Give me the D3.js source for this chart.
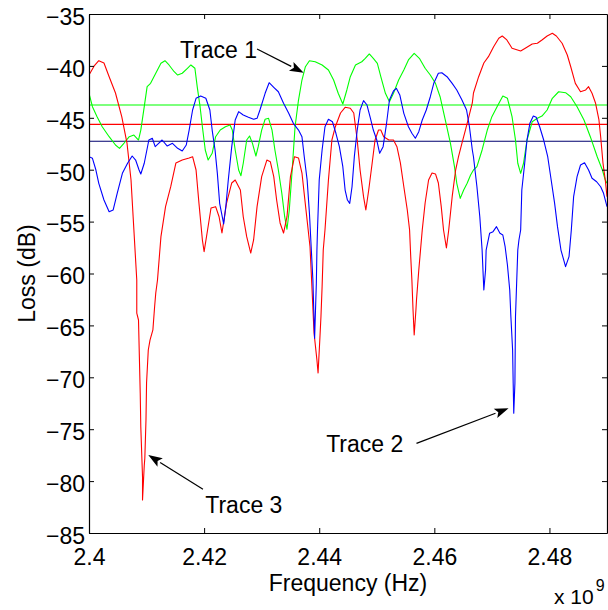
<!DOCTYPE html>
<html>
<head>
<meta charset="utf-8">
<script src="https://cdn.jsdelivr.net/npm/d3@7"></script>
<style>
	body { margin: 0; background: #fff; }
	text { font-family: "Liberation Sans", Arial, Helvetica, sans-serif; fill: #000; }
</style>
</head>
<body>
<div id="loss"></div>
<script>
// tick values (frequency in units of 10^9 Hz)
const xTicks = [2.40, 2.42, 2.44, 2.46, 2.48];
const yTicks = [-35, -40, -45, -50, -55, -60, -65, -70, -75, -80, -85];

// Trace 1 (green): [frequency x1e9 Hz, loss dB]
const trace1 = [
	[2.4000,-42.64],[2.4006,-43.93],[2.4014,-44.89],[2.4023,-45.86],[2.4035,-46.82],[2.4046,-47.62],
	[2.4053,-47.94],[2.4061,-47.43],[2.4070,-46.82],[2.4078,-46.66],[2.4086,-47.14],[2.4090,-46.18],
	[2.4096,-43.93],[2.4101,-42.00],[2.4107,-41.68],[2.4116,-40.71],[2.4125,-39.75],[2.4132,-39.50],
	[2.4139,-39.91],[2.4148,-40.56],[2.4154,-40.88],[2.4162,-40.71],[2.4171,-40.23],[2.4177,-39.91],
	[2.4184,-40.23],[2.4188,-42.00],[2.4193,-43.93],[2.4197,-45.86],[2.4202,-48.10],[2.4207,-49.07],
	[2.4214,-48.42],[2.4220,-46.82],[2.4228,-46.18],[2.4237,-45.86],[2.4245,-45.69],[2.4249,-46.18],
	[2.4254,-48.10],[2.4260,-50.03],[2.4264,-50.58],[2.4268,-49.38],[2.4274,-47.14],[2.4279,-46.75],
	[2.4284,-47.46],[2.4290,-48.68],[2.4294,-47.78],[2.4300,-46.18],[2.4306,-45.14],[2.4312,-45.05],
	[2.4318,-46.18],[2.4323,-48.10],[2.4329,-50.03],[2.4335,-52.27],[2.4340,-54.53],[2.4344,-55.74],
	[2.4348,-53.88],[2.4353,-50.03],[2.4358,-45.86],[2.4364,-43.29],[2.4370,-41.36],[2.4376,-40.08],
	[2.4383,-39.50],[2.4393,-39.60],[2.4405,-39.91],[2.4416,-40.39],[2.4425,-41.36],[2.4433,-42.64],
	[2.4441,-43.67],[2.4448,-42.32],[2.4454,-41.04],[2.4463,-39.91],[2.4474,-39.60],[2.4480,-39.27],
	[2.4487,-38.85],[2.4494,-39.27],[2.4501,-39.75],[2.4507,-41.04],[2.4515,-42.64],[2.4522,-43.45],
	[2.4529,-42.64],[2.4538,-41.36],[2.4547,-40.39],[2.4555,-39.43],[2.4565,-38.79],[2.4574,-39.27],
	[2.4584,-40.23],[2.4593,-40.88],[2.4602,-41.68],[2.4610,-42.97],[2.4619,-45.21],[2.4628,-47.46],
	[2.4635,-49.71],[2.4639,-51.31],[2.4645,-52.76],[2.4651,-51.96],[2.4657,-51.31],[2.4663,-50.51],
	[2.4668,-50.03],[2.4674,-49.71],[2.4683,-48.10],[2.4692,-46.18],[2.4700,-44.89],[2.4709,-43.93],
	[2.4719,-42.90],[2.4727,-43.12],[2.4735,-44.89],[2.4741,-47.14],[2.4745,-49.38],[2.4750,-50.35],
	[2.4755,-49.38],[2.4761,-47.14],[2.4770,-45.38],[2.4779,-45.05],[2.4787,-44.83],[2.4796,-44.25],
	[2.4805,-43.12],[2.4816,-42.49],[2.4828,-42.58],[2.4837,-42.97],[2.4848,-43.93],[2.4860,-45.21],
	[2.4871,-46.82],[2.4883,-48.75],[2.4892,-50.03],[2.4897,-50.99],[2.4900,-51.31]
];

// Trace 2 (blue)
const trace2 = [
	[2.4000,-48.75],[2.4006,-48.90],[2.4012,-50.03],[2.4017,-51.31],[2.4026,-52.92],[2.4035,-54.05],
	[2.4042,-53.88],[2.4049,-52.27],[2.4058,-50.35],[2.4067,-49.38],[2.4075,-48.68],[2.4081,-49.07],
	[2.4087,-50.03],[2.4090,-50.41],[2.4096,-49.38],[2.4104,-47.14],[2.4110,-46.97],[2.4115,-47.78],
	[2.4121,-47.46],[2.4127,-47.14],[2.4136,-47.72],[2.4145,-47.46],[2.4154,-47.94],[2.4162,-48.20],
	[2.4169,-47.62],[2.4174,-46.18],[2.4180,-44.25],[2.4186,-43.12],[2.4194,-42.90],[2.4203,-43.12],
	[2.4210,-44.25],[2.4214,-46.18],[2.4219,-48.10],[2.4223,-50.35],[2.4227,-53.24],[2.4234,-55.23],
	[2.4238,-53.40],[2.4242,-50.99],[2.4248,-47.78],[2.4254,-45.21],[2.4260,-44.41],[2.4268,-44.73],
	[2.4277,-44.95],[2.4286,-45.14],[2.4292,-45.05],[2.4297,-44.25],[2.4306,-42.64],[2.4313,-41.62],
	[2.4321,-42.06],[2.4329,-42.49],[2.4338,-43.60],[2.4347,-44.57],[2.4355,-45.53],[2.4364,-46.18],
	[2.4370,-46.82],[2.4374,-48.75],[2.4379,-50.99],[2.4383,-54.20],[2.4386,-57.42],[2.4389,-60.63],
	[2.4390,-62.55],[2.4392,-66.24],[2.4395,-60.94],[2.4396,-57.74],[2.4397,-55.81],[2.4400,-50.99],
	[2.4405,-48.10],[2.4410,-45.86],[2.4416,-45.14],[2.4423,-45.38],[2.4429,-46.49],[2.4435,-47.78],
	[2.4441,-49.71],[2.4445,-51.96],[2.4449,-52.92],[2.4453,-53.24],[2.4457,-51.64],[2.4461,-48.75],
	[2.4466,-46.18],[2.4471,-44.25],[2.4477,-43.35],[2.4483,-43.77],[2.4489,-45.05],[2.4494,-46.18],
	[2.4500,-47.14],[2.4505,-48.42],[2.4511,-47.78],[2.4517,-45.53],[2.4522,-43.29],[2.4529,-42.42],
	[2.4534,-42.16],[2.4540,-42.80],[2.4547,-44.57],[2.4555,-45.86],[2.4561,-46.49],[2.4567,-46.97],
	[2.4573,-46.34],[2.4579,-45.21],[2.4586,-44.25],[2.4593,-42.97],[2.4599,-41.68],[2.4607,-40.71],
	[2.4613,-40.66],[2.4622,-41.04],[2.4631,-41.68],[2.4639,-42.32],[2.4648,-43.29],[2.4656,-44.25],
	[2.4661,-45.86],[2.4666,-48.10],[2.4668,-48.75],[2.4674,-51.64],[2.4679,-54.53],[2.4683,-57.74],
	[2.4685,-60.31],[2.4686,-61.59],[2.4689,-59.66],[2.4690,-57.74],[2.4696,-56.13],[2.4702,-55.97],
	[2.4708,-55.49],[2.4714,-56.13],[2.4719,-56.29],[2.4723,-57.42],[2.4727,-59.18],[2.4731,-61.59],
	[2.4733,-64.16],[2.4736,-67.37],[2.4737,-70.58],[2.4738,-73.47],[2.4740,-70.58],[2.4741,-64.16],
	[2.4743,-60.94],[2.4745,-57.74],[2.4747,-56.77],[2.4750,-55.81],[2.4752,-51.96],[2.4757,-49.38],
	[2.4761,-47.14],[2.4766,-45.53],[2.4772,-44.83],[2.4777,-44.95],[2.4783,-45.86],[2.4790,-47.14],
	[2.4797,-48.75],[2.4803,-50.99],[2.4809,-53.24],[2.4814,-55.49],[2.4820,-57.74],[2.4828,-59.34],
	[2.4834,-58.38],[2.4838,-55.81],[2.4842,-52.60],[2.4848,-50.67],[2.4854,-49.55],[2.4861,-49.33],
	[2.4868,-50.03],[2.4874,-50.83],[2.4882,-51.16],[2.4889,-51.64],[2.4894,-52.27],[2.4900,-53.56]
];

// Trace 3 (red)
const trace3 = [
	[2.4000,-40.88],[2.4009,-40.00],[2.4017,-39.50],[2.4026,-39.72],[2.4035,-41.04],[2.4046,-42.61],
	[2.4057,-44.92],[2.4066,-47.43],[2.4073,-50.99],[2.4078,-55.81],[2.4083,-60.63],[2.4083,-63.81],
	[2.4086,-64.48],[2.4089,-71.51],[2.4090,-74.79],[2.4093,-79.61],[2.4093,-81.82],[2.4096,-78.50],
	[2.4097,-77.80],[2.4099,-74.11],[2.4100,-70.55],[2.4103,-67.37],[2.4106,-66.41],[2.4111,-65.44],
	[2.4114,-63.20],[2.4116,-61.88],[2.4119,-60.63],[2.4125,-56.45],[2.4133,-53.56],[2.4142,-51.64],
	[2.4151,-49.35],[2.4162,-49.07],[2.4174,-48.87],[2.4180,-48.75],[2.4186,-50.03],[2.4191,-53.21],
	[2.4197,-56.77],[2.4200,-57.90],[2.4206,-55.81],[2.4212,-53.69],[2.4220,-53.56],[2.4226,-54.53],
	[2.4231,-56.10],[2.4239,-53.21],[2.4248,-51.28],[2.4254,-50.99],[2.4263,-51.96],[2.4268,-54.53],
	[2.4274,-56.45],[2.4281,-58.03],[2.4286,-56.77],[2.4292,-53.56],[2.4300,-50.67],[2.4309,-49.07],
	[2.4315,-49.23],[2.4321,-50.67],[2.4326,-52.92],[2.4332,-55.13],[2.4338,-56.10],[2.4344,-54.53],
	[2.4350,-50.67],[2.4357,-48.75],[2.4364,-48.87],[2.4370,-50.32],[2.4377,-53.88],[2.4384,-57.42],
	[2.4387,-60.92],[2.4391,-65.73],[2.4396,-68.33],[2.4398,-69.59],[2.4401,-66.41],[2.4403,-64.16],
	[2.4405,-61.27],[2.4407,-57.74],[2.4410,-55.81],[2.4416,-50.99],[2.4422,-47.14],[2.4428,-45.86],
	[2.4437,-44.54],[2.4445,-43.99],[2.4454,-44.08],[2.4460,-44.54],[2.4466,-47.14],[2.4471,-50.03],
	[2.4477,-52.60],[2.4481,-53.88],[2.4486,-51.96],[2.4492,-49.35],[2.4497,-47.14],[2.4503,-46.18],
	[2.4507,-46.18],[2.4512,-46.82],[2.4521,-47.14],[2.4529,-47.14],[2.4535,-47.78],[2.4541,-49.35],
	[2.4547,-51.64],[2.4553,-53.88],[2.4557,-55.81],[2.4559,-58.38],[2.4561,-60.63],[2.4563,-63.52],
	[2.4565,-65.92],[2.4568,-63.52],[2.4569,-62.55],[2.4573,-59.66],[2.4576,-57.74],[2.4579,-55.81],
	[2.4584,-53.21],[2.4590,-50.99],[2.4596,-50.32],[2.4602,-50.41],[2.4607,-51.28],[2.4612,-53.56],
	[2.4616,-55.81],[2.4621,-57.54],[2.4625,-55.81],[2.4631,-52.60],[2.4637,-50.03],[2.4642,-48.75],
	[2.4648,-47.43],[2.4654,-46.18],[2.4660,-44.89],[2.4666,-43.57],[2.4668,-42.61],[2.4677,-41.04],
	[2.4686,-39.72],[2.4694,-39.11],[2.4703,-38.15],[2.4712,-37.34],[2.4718,-37.12],[2.4726,-37.50],
	[2.4735,-38.30],[2.4750,-38.56],[2.4758,-38.30],[2.4770,-37.89],[2.4779,-37.82],[2.4787,-37.50],
	[2.4796,-37.12],[2.4805,-36.86],[2.4812,-37.12],[2.4822,-37.82],[2.4831,-38.95],[2.4837,-40.08],
	[2.4845,-41.68],[2.4854,-42.49],[2.4863,-42.32],[2.4868,-42.00],[2.4874,-42.64],[2.4880,-43.57],
	[2.4886,-45.21],[2.4889,-46.82],[2.4893,-49.35],[2.4897,-50.99],[2.4900,-52.60]
];

// reference levels (dB) for trace 1, 3 and 2
const refLevels = [-43.77, -45.64, -47.26];

// annotation text and arrows, in data units
const noteLabels = ["Trace 1", "Trace 2", "Trace 3"];
const noteText = [[2.4292, -39.24], [2.4546, -77.20], [2.4202, -83.07]];
const noteFrom = [[2.4292, -38.37], [2.4569, -76.36], [2.4198, -80.79]];
const noteTo = [[2.4373, -40.66], [2.4729, -72.99], [2.4103, -77.49]];

drawLoss();

function drawLoss() {
	const margin = {top: 14, right: 1, bottom: 77, left: 89},
		  width = 608 - margin.left - margin.right,
		  height = 610 - margin.top - margin.bottom;

	const svg = d3.select("#loss")
				  .append("svg")
				  .attr("width", 608)
				  .attr("height", 610)
				  .append("g")
				  .attr("transform", `translate(${margin.left},${margin.top})`);

	const x = d3.scaleLinear()
				.domain([2.4, 2.49])
				.range([0, width]);

	const y = d3.scaleLinear()
				.domain([-85, -35])
				.range([height, 0]);

	svg.append("clipPath")
	   .attr("id", "plot-clip")
	   .append("rect")
	   .attr("width", width)
	   .attr("height", height);

	const line = d3.line()
				   .x(d => x(d[0]))
				   .y(d => y(d[1]));

	const plot = svg.append("g").attr("clip-path", "url(#plot-clip)");

	// horizontal reference lines
	const refColors = ["#7dff7d", "#ff0000", "#00006e"];
	const refWidths = [2, 1.2, 1.2];
	refLevels.forEach((v, i) => {
		plot.append("line")
			.attr("x1", 0)
			.attr("x2", width)
			.attr("y1", y(v))
			.attr("y2", y(v))
			.attr("stroke", refColors[i])
			.attr("stroke-width", refWidths[i]);
	});

	// traces
	const traces = [trace1, trace3, trace2];
	const traceColors = ["#00ff00", "#ff0000", "#0000ff"];
	traces.forEach((t, i) => {
		plot.append("path")
			.datum(t)
			.attr("fill", "none")
			.attr("stroke", traceColors[i])
			.attr("stroke-width", 1.1)
			.attr("stroke-linejoin", "round")
			.attr("d", line);
	});

	// axes, ticks inside on all four sides (box on)
	const tickLen = 5;
	svg.append("g")
	   .attr("transform", `translate(0,${height})`)
	   .call(d3.axisBottom(x).tickValues(xTicks).tickSizeInner(-tickLen).tickSizeOuter(0)
			 .tickPadding(16).tickFormat(d3.format("~g")))
	   .call(g => g.selectAll("text").style("font-size", "23px").attr("dy", "0.71em"));

	svg.append("g")
	   .call(d3.axisTop(x).tickValues(xTicks).tickSizeInner(-tickLen).tickSizeOuter(0).tickFormat(""));

	svg.append("g")
	   .call(d3.axisLeft(y).tickValues(yTicks).tickSizeInner(-tickLen).tickSizeOuter(0)
			 .tickPadding(4).tickFormat(d3.format("d")))
	   .call(g => g.selectAll("text").style("font-size", "23px").attr("dy", "0.45em"));

	svg.append("g")
	   .attr("transform", `translate(${width},0)`)
	   .call(d3.axisRight(y).tickValues(yTicks).tickSizeInner(-tickLen).tickSizeOuter(0).tickFormat(""));

	svg.selectAll(".domain").attr("stroke", "#000").attr("stroke-width", 1.2);
	svg.selectAll(".tick line").attr("stroke", "#000");

	// axis labels
	svg.append("text")
	   .attr("text-anchor", "middle")
	   .attr("x", width / 2)
	   .attr("y", height + 58)
	   .style("font-size", "23px")
	   .text("Frequency (Hz)");

	svg.append("text")
	   .attr("text-anchor", "middle")
	   .attr("transform", "rotate(-90)")
	   .attr("x", -height / 2)
	   .attr("y", -margin.left + 35)
	   .style("font-size", "23px")
	   .text("Loss (dB)");

	// exponent label
	const expo = svg.append("text")
					.attr("x", width - 53)
					.attr("y", height + 71)
					.style("font-size", "21px");
	expo.append("tspan").text("x 10");
	expo.append("tspan").attr("dy", -13).attr("dx", 2).style("font-size", "16px").text("9");

	// annotations
	noteLabels.forEach((label, i) => {
		svg.append("text")
		   .attr("x", x(noteText[i][0]))
		   .attr("y", y(noteText[i][1]))
		   .attr("text-anchor", i === 2 ? "start" : "end")
		   .style("font-size", "23px")
		   .text(label);

		const x1 = x(noteFrom[i][0]), y1 = y(noteFrom[i][1]);
		const x2 = x(noteTo[i][0]), y2 = y(noteTo[i][1]);
		const ang = Math.atan2(y2 - y1, x2 - x1);
		const headLen = 14, headW = 5;
		const bx = x2 - headLen * Math.cos(ang), by = y2 - headLen * Math.sin(ang);

		svg.append("line")
		   .attr("x1", x1).attr("y1", y1)
		   .attr("x2", bx).attr("y2", by)
		   .attr("stroke", "#000")
		   .attr("stroke-width", 1.2);

		svg.append("path")
		   .attr("d", `M${x2},${y2}L${bx - headW * Math.sin(ang)},${by + headW * Math.cos(ang)}` +
					  `L${bx + 3 * Math.cos(ang)},${by + 3 * Math.sin(ang)}` +
					  `L${bx + headW * Math.sin(ang)},${by - headW * Math.cos(ang)}Z`)
		   .attr("fill", "#000");
	});
}
</script>
</body>
</html>
